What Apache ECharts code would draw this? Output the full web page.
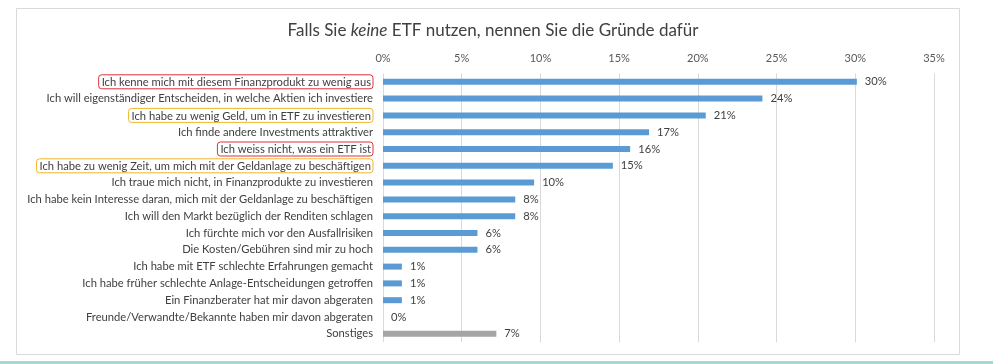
<!DOCTYPE html>
<html><head><meta charset="utf-8">
<script src="https://cdn.jsdelivr.net/npm/echarts@6/dist/echarts.min.js"></script>
<style>html,body{margin:0;padding:0;background:#fff}#c{width:993px;height:364px}</style>
</head><body><div id="c"></div>
<script>
const categories = [
 'Ich kenne mich mit diesem Finanzprodukt zu wenig aus',
 'Ich will eigenständiger Entscheiden, in welche Aktien ich investiere',
 'Ich habe zu wenig Geld, um in ETF zu investieren',
 'Ich finde andere Investments attraktiver',
 'Ich weiss nicht, was ein ETF ist',
 'Ich habe zu wenig Zeit, um mich mit der Geldanlage zu beschäftigen',
 'Ich traue mich nicht, in Finanzprodukte zu investieren',
 'Ich habe kein Interesse daran, mich mit der Geldanlage zu beschäftigen',
 'Ich will den Markt bezüglich der Renditen schlagen',
 'Ich fürchte mich vor den Ausfallrisiken',
 'Die Kosten/Gebühren sind mir zu hoch',
 'Ich habe mit ETF schlechte Erfahrungen gemacht',
 'Ich habe früher schlechte Anlage-Entscheidungen getroffen',
 'Ein Finanzberater hat mir davon abgeraten',
 'Freunde/Verwandte/Bekannte haben mir davon abgeraten',
 'Sonstiges'
];
const values = [30.1, 24.1, 20.5, 16.9, 15.7, 14.6, 9.6, 8.4, 8.4, 6.0, 6.0, 1.2, 1.2, 1.2, 0, 7.2];
const redMarked = [0, 4];
const yellowMarked = [2, 5];
const xTicks = [0, 5, 10, 15, 20, 25, 30, 35];

const chart = echarts.init(document.getElementById('c'), null, {renderer: 'canvas'});
const FONT = 'Lato';
const FS = 11.2;
chart.setOption({
  animation: false,
  backgroundColor: '#fff',
  textStyle: {fontFamily: FONT},
  graphic: [
    {type: 'rect', shape: {x: 16.5, y: 8.5, width: 943, height: 346}, style: {fill: '#fff', stroke: '#d9d9d9', lineWidth: 1}, z: -10},
    {type: 'rect', shape: {x: 0, y: 361, width: 993, height: 3}, style: {fill: '#a8d8d2'}, z: -10}
  ],
  title: {
    text: 'Falls Sie {i|keine} ETF nutzen, nennen Sie die Gründe dafür',
    left: 488, top: 17, textAlign: 'center',
    textStyle: {fontFamily: FONT, fontSize: 17, fontWeight: 'normal', color: '#404040',
      rich: {i: {fontFamily: FONT, fontSize: 17, fontStyle: 'italic', color: '#404040'}}}
  },
  grid: {left: 383, right: 59, top: 73.4, bottom: 21.8, containLabel: false},
  xAxis: {
    type: 'value', position: 'top', min: xTicks[0], max: xTicks[xTicks.length - 1], interval: 5,
    axisLine: {show: false}, axisTick: {show: false},
    axisLabel: {formatter: v => v + '%', color: '#595959', fontSize: 11, fontFamily: FONT, margin: 9},
    splitLine: {lineStyle: {color: '#d9d9d9', width: 1}}
  },
  yAxis: {
    type: 'category', data: categories, inverse: true,
    axisLine: {show: false}, axisTick: {show: false},
    axisLabel: {
      color: '#404040', fontSize: FS, fontFamily: FONT, margin: 10,
      formatter: (v, i) => redMarked.includes(i) ? '{r|' + v + '}' : (yellowMarked.includes(i) ? '{y|' + v + '}' : v),
      rich: {
        r: {color: '#404040', fontSize: FS, fontFamily: FONT, borderColor: '#e0303a', borderWidth: 1, borderRadius: 3, padding: [2, 2, 1, 3]},
        y: {color: '#404040', fontSize: FS, fontFamily: FONT, borderColor: '#f2b630', borderWidth: 1, borderRadius: 3, padding: [2, 2, 1, 3]}
      }
    }
  },
  series: [{
    type: 'bar', barWidth: 6,
    data: values.map((v, i) => ({value: v, itemStyle: {color: i === values.length - 1 ? '#a5a5a5' : '#5b9bd5'}})),
    label: {show: true, position: 'right', distance: 8, color: '#404040', fontSize: FS, fontFamily: FONT,
      formatter: p => Math.round(p.value) + '%'}
  }]
});
</script></body></html>
